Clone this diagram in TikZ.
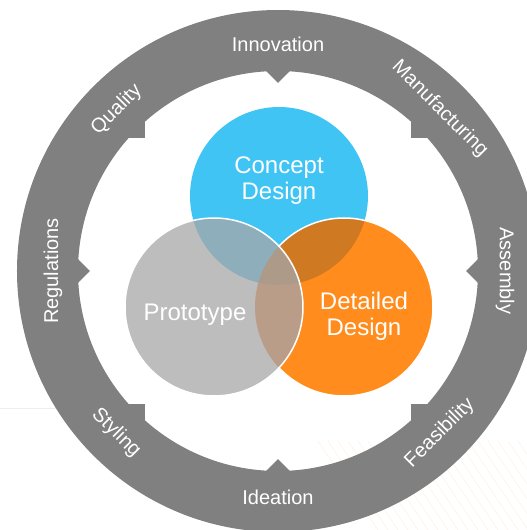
\documentclass[tikz,border=0pt]{standalone}
\usepackage{fontspec}
\setmainfont{Liberation Sans}
\definecolor{vongxam}{HTML}{808080}
\definecolor{xanhduong}{HTML}{40C4F4}
\definecolor{camdam}{HTML}{FF8C1C}
\definecolor{xamnhat}{HTML}{BDBDBD}
\definecolor{giaoCP}{HTML}{8FAEBB}
\definecolor{giaoCD}{HTML}{CF7A22}
\definecolor{giaoPD}{HTML}{BA9D88}
\definecolor{giaoba}{HTML}{AE9A89}
\begin{document}
\begin{tikzpicture}[x=1pt,y=1pt,line join=round,line cap=round,
	nhanvong/.style={text=white,font=\fontsize{20}{24}\selectfont},
	nhantron/.style={text=white,font=\fontsize{24}{26}\selectfont,align=center}]
	\useasboundingbox (-278,-259) rectangle (249,271);
	\clip (-278,-259) rectangle (249,271);
	%Nét trang trí nền
	\foreach \i in {0,...,24}
	\draw[camdam!12,line width=0.6] (40+10*\i,-170)--++(-56:140);
	\draw[xamnhat!25,line width=0.6] (-278,-137)--(-215,-137);
	%Vòng tròn ngoài
	\fill[vongxam,even odd rule] (0,0) circle (261) (0,0) circle (200);
	\foreach \g in {0,45,...,315}
	\fill[vongxam] (\g:188)--++(\g+45:20)--++(\g-45:20)--++(\g-135:20)--cycle;
	%Ba hình tròn
	\path (1,75) coordinate (C)
	(-64,-36) coordinate (P)
	(66,-36) coordinate (D);
	\fill[xanhduong] (C) circle (89);
	\fill[camdam] (D) circle (89);
	\begin{scope}
		\clip (C) circle (89);
		\fill[giaoCD] (D) circle (89);
	\end{scope}
	\draw[white,line width=1.5] (D) circle (89);
	\begin{scope}
		\clip (P) circle (89);
		\fill[xamnhat] (P) circle (89);
		\fill[giaoPD] (D) circle (89);
		\clip (C) circle (89);
		\fill[giaoCP] (P) circle (89);
		\fill[giaoba] (D) circle (89);
	\end{scope}
	\draw[white,line width=1.5] (P) circle (89);
	\node[nhantron] (concept) at (1,90) {Concept\\Design};
	\node[nhantron] (prototype) at (-83,-44) {Prototype};
	\node[nhantron] (detailed) at (86,-45) {Detailed\\Design};
	%Nhãn trên vòng
	\node[nhanvong] (innovation) at (90:227) {Innovation};
	\node[nhanvong,rotate=-45] (manufacturing) at (45:229) {Manufacturing};
	\node[nhanvong,rotate=-90] (assembly) at (0:227) {Assembly};
	\node[nhanvong,rotate=45] (feasibility) at (-45:229) {Feasibility};
	\node[nhanvong] (ideation) at (-90:226) {Ideation};
	\node[nhanvong,rotate=-45] (styling) at (-135:229) {Styling};
	\node[nhanvong,rotate=90] (regulations) at (180:225) {Regulations};
	\node[nhanvong,rotate=45] (quality) at (135:228) {Quality};
\end{tikzpicture}
\end{document}
